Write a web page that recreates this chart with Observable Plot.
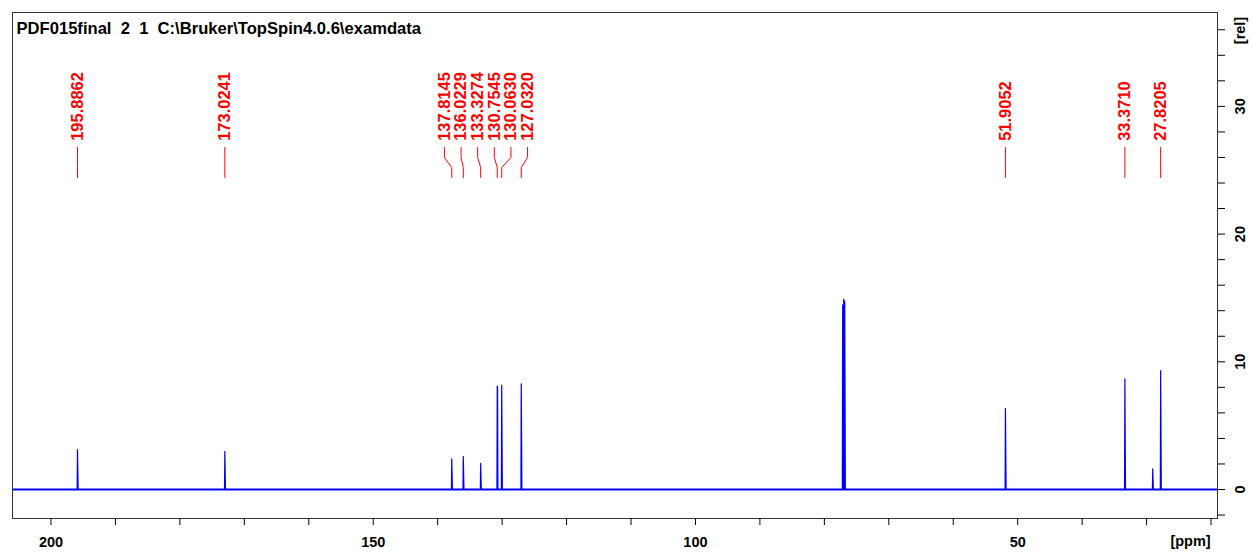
<!DOCTYPE html>
<html>
<head>
<meta charset="utf-8">
<script src="https://cdn.jsdelivr.net/npm/d3@7"></script>
<script src="https://cdn.jsdelivr.net/npm/@observablehq/plot@0.6"></script>
<style>
  html, body { margin: 0; padding: 0; background: #fff; }
  svg { display: block; }
</style>
</head>
<body>
<div id="chart"></div>
<script>
// ---- data ----
const title = "PDF015final\u00a0\u00a02\u00a0\u00a01\u00a0\u00a0C:\\Bruker\\TopSpin4.0.6\\examdata";
const xTicks = d3.range(200, 19, -10);
const xTickLabels = [200, 150, 100, 50];
const yTicks = d3.range(-2, 37, 2);
const yTickLabels = [0, 10, 20, 30];

// peaks in the spectrum (ppm, top height, second-sample height) in rel units
const peakPpm      = [195.8862, 173.0241, 137.8145, 136.0229, 133.3274, 130.7545, 130.0630, 127.0320, 77.16, 77.00, 76.84, 51.9052, 33.3710, 29.05, 27.8205];
const peakTop      = [3.13, 2.98, 2.40, 2.58, 2.04, 8.09, 8.17, 8.28, 14.45, 14.90, 14.75, 6.34, 8.67, 1.62, 9.32];
const peakShoulder = [1.58, 1.57, 1.23, 1.31, 1.04, 8.00, 4.15, 4.15, 8.80, 8.80, 7.60, 3.29, 4.30, 0.70, 4.88];

// annotated peak positions
const labelPpm = [195.8862, 173.0241, 137.8145, 136.0229, 133.3274, 130.7545, 130.0630, 127.0320, 51.9052, 33.3710, 27.8205];

// ---- layout constants ----
const W = 1252, H = 552;
const xDomain = [205.97, 19.0];
const yDomain = [-2.27, 37.35];
const blue = "#0000ff", red = "#ff0000";
const font = "'Liberation Sans', Arial, sans-serif";

// spectrum trace built from peak list
const trace = [{x: xDomain[0], y: 0}];
peakPpm.map((p, i) => ({p, t: peakTop[i], s: peakShoulder[i]}))
  .sort((a, b) => b.p - a.p)
  .forEach(({p, t, s}) => {
    trace.push({x: p + 0.05, y: 0}, {x: p, y: t}, {x: p - 0.05, y: s}, {x: p - 0.1, y: 0});
  });
trace.push({x: xDomain[1], y: 0});

// label declutter: spread labels with a minimum gap (in ppm), centred on the group's peaks
function spread(ppms, gap) {
  const sorted = ppms.slice().sort((a, b) => b - a);
  let groups = sorted.map(p => ({members: [p]}));
  const pos = g => {
    const c = d3.mean(g.members), n = g.members.length;
    return g.members.map((_, k) => c + gap * ((n - 1) / 2 - k));
  };
  let changed = true;
  while (changed) {
    changed = false;
    for (let i = 0; i < groups.length - 1; i++) {
      const a = pos(groups[i]), b = pos(groups[i + 1]);
      if (a[a.length - 1] - b[0] < gap - 1e-9) {
        groups.splice(i, 2, {members: groups[i].members.concat(groups[i + 1].members)});
        changed = true;
        break;
      }
    }
  }
  const out = [];
  groups.forEach(g => pos(g).forEach((lp, k) => out.push({peak: g.members[k], lab: lp})));
  return out;
}
const labels = spread(labelPpm, 2.58);

// leader line levels (rel units)
const yL0 = 26.78, yL1 = 26.0, yL2 = 25.21, yL3 = 24.43, yText = 27.3;
const leaders = [];
labels.forEach((d, i) => {
  leaders.push({x: d.lab, y: yL0, z: i}, {x: d.lab, y: yL1, z: i}, {x: d.peak, y: yL2, z: i}, {x: d.peak, y: yL3, z: i});
});

const chart = Plot.plot({
  width: W,
  height: H,
  marginLeft: 12,
  marginRight: 35,
  marginTop: 12,
  marginBottom: 34,
  style: {fontFamily: font, background: "#fff"},
  x: {domain: xDomain, axis: null},
  y: {domain: yDomain, axis: null},
  marks: [
    Plot.ruleY([0], {stroke: blue, strokeWidth: 2}),
    Plot.line(trace, {x: "x", y: "y", stroke: blue, strokeWidth: 1.2, clip: true}),
    Plot.line(leaders, {x: "x", y: "y", z: "z", stroke: red, strokeWidth: 1}),
    Plot.text(labels, {x: "lab", y: yText, text: d => d.peak.toFixed(4), rotate: -90, textAnchor: "start", lineAnchor: "middle", fill: red, fontWeight: "bold", fontSize: 16.5}),
    Plot.frame({stroke: "#333", strokeWidth: 1}),
    // x axis
    Plot.axisX({ticks: xTicks, tickSize: 7, tickPadding: 11, anchor: "bottom", label: null,
      tickFormat: d => xTickLabels.includes(d) ? String(d) : "",
      fontSize: 14.5, fontWeight: "bold", stroke: "#000"}),
    Plot.text(["[ppm]"], {frameAnchor: "bottom-right", dx: -27, dy: 23, text: d => d, fontSize: 14.5, fontWeight: "bold", textAnchor: "middle", lineAnchor: "middle"}),
    // y axis (right)
    Plot.axisY({ticks: yTicks, tickSize: 7, anchor: "right", label: null, tickFormat: () => "", stroke: "#000"}),
    Plot.text(yTickLabels, {y: d => d, frameAnchor: "right", dx: 23, text: d => String(d), rotate: -90, textAnchor: "middle", lineAnchor: "middle", fontSize: 14.5, fontWeight: "bold"}),
    Plot.text(["[rel]"], {frameAnchor: "top-right", dx: 23, dy: 18, text: d => d, rotate: -90, textAnchor: "middle", lineAnchor: "middle", fontSize: 14.5, fontWeight: "bold"}),
    // title
    Plot.text([title], {frameAnchor: "top-left", dx: 4, dy: 16, text: d => d, textAnchor: "start", lineAnchor: "middle", fontSize: 16.6, fontWeight: "bold"})
  ]
});
document.getElementById("chart").appendChild(chart);
</script>
</body>
</html>
